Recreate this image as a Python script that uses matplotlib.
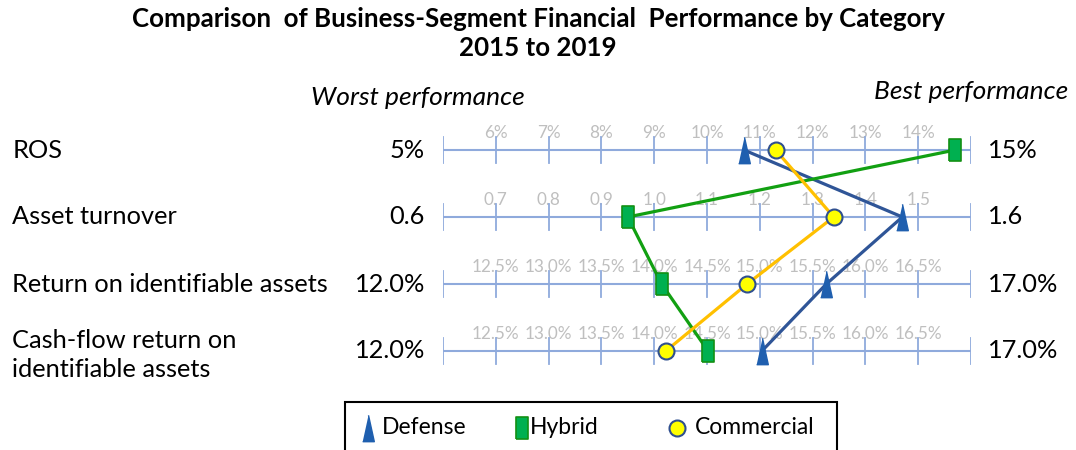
import numpy as np
import matplotlib
matplotlib.use('Agg')
import matplotlib.pyplot as plt
from matplotlib.lines import Line2D
from matplotlib.patches import Rectangle

plt.rcParams['font.family'] = ['Lato', 'DejaVu Sans']

# ── data ────────────────────────────────────────────────────────────────
categories = ["ROS", "Asset turnover", "Return on identifiable assets",
              "Cash-flow return on\nidentifiable assets"]
axis_min = [5.0, 0.6, 12.0, 12.0]
axis_max = [15.0, 1.6, 17.0, 17.0]
min_labels = ["5%", "0.6", "12.0%", "12.0%"]
max_labels = ["15%", "1.6", "17.0%", "17.0%"]
tick_labels = [
    ["6%", "7%", "8%", "9%", "10%", "11%", "12%", "13%", "14%"],
    ["0.7", "0.8", "0.9", "1.0", "1.1", "1.2", "1.3", "1.4", "1.5"],
    ["12.5%", "13.0%", "13.5%", "14.0%", "14.5%", "15.0%", "15.5%", "16.0%", "16.5%"],
    ["12.5%", "13.0%", "13.5%", "14.0%", "14.5%", "15.0%", "15.5%", "16.0%", "16.5%"],
]
defense = [10.7, 1.47, 15.63, 15.02]
hybrid = [14.7, 0.95, 14.07, 14.51]
commercial = [11.3, 1.34, 14.88, 14.11]

# ── styles ──────────────────────────────────────────────────────────────
AXIS_C = '#8FAADC'
TICK_TXT = '#BFBFBF'
tri = [(-0.22, -0.5), (0.22, -0.5), (0.0, 0.5)]
rect = [(-0.28, -0.5), (0.28, -0.5), (0.28, 0.5), (-0.28, 0.5), (-0.28, -0.5)]
series = [
    ('Defense', defense, '#2F5597', dict(marker=tri, ms=19, mfc='#1F5FAF', mec='#1F5FAF')),
    ('Hybrid', hybrid, '#12A012', dict(marker=rect, ms=16, mfc='#00B050', mec='#139013', mew=1.2)),
    ('Commercial', commercial, '#FFC000', dict(marker='o', ms=11.5, mfc='#FFFF00', mec='#2F4F8F', mew=1.5)),
]

W, H = 1076, 450
fig = plt.figure(figsize=(W / 100, H / 100), dpi=100)
ax = fig.add_axes([443 / W, 1 - 384.5 / H, 528 / W, 268 / H])
ax.set_xlim(0, 1)
ax.set_ylim(len(categories) - 0.5, -0.5)
ax.axis('off')

n = len(categories)
rows = np.arange(n)

# axis lines, ticks and labels for each category
for i in range(n):
    ax.plot([0, 1], [i, i], color=AXIS_C, lw=1.5, zorder=1)
    ticks = np.linspace(0, 1, 11)
    for t in ticks:
        ax.plot([t, t], [i - 0.2, i + 0.2], color=AXIS_C, lw=1.3, zorder=1)
    for t, lab in zip(ticks[1:-1], tick_labels[i]):
        ax.text(t, i - 0.25, lab, color=TICK_TXT, fontsize=12.3,
                ha='center', va='center', zorder=0.5)
    ax.text(-0.034, i, min_labels[i], fontsize=18.3, ha='right', va='center')
    ax.text(1.032, i, max_labels[i], fontsize=18.3, ha='left', va='center')
    ax.text(-0.816, i + (0.06 if '\n' in categories[i] else 0), categories[i],
            fontsize=18.3, ha='left', va='center', linespacing=1.3)

# series lines + markers (normalised to each category's range)
handles = []
for name, vals, lc, mk in series:
    frac = [(v - lo) / (hi - lo) for v, lo, hi in zip(vals, axis_min, axis_max)]
    ax.plot(frac, rows, color=lc, lw=2.3, zorder=3, clip_on=False)
    ax.plot(frac, rows, ls='none', zorder=4, clip_on=False, **mk)
    handles.append((name, mk))

ax.text(-0.047, -0.78, 'Worst performance', fontsize=19, style='italic',
        ha='center', va='center')
ax.text(1.184, -0.87, 'Best performance', fontsize=19, style='italic',
        ha='right', va='center')

fig.text(0.5, 1 - 7 / H,
         'Comparison  of Business-Segment Financial  Performance by Category\n2015 to 2019',
         ha='center', va='top', fontsize=18.6, fontweight='bold', linespacing=1.27)

# legend box (bottom edge runs off the figure, as in the original)
fig.patches.append(Rectangle((345 / W, -0.05), (837 - 345) / W, 0.05 + 1 - 402 / H,
                             transform=fig.transFigure, fill=False,
                             edgecolor='black', lw=1.5))
leg_marker_x = [368, 522, 677]
leg_text_x = [382, 530, 695]
leg_y = 1 - 428 / H
for (name, mk), mx, tx in zip(handles, leg_marker_x, leg_text_x):
    fig.add_artist(Line2D([mx / W], [leg_y], transform=fig.transFigure, ls='none', **mk))
    fig.text(tx / W, leg_y, name, fontsize=16.5, ha='left', va='center')

fig.savefig('out.png', dpi=100)
